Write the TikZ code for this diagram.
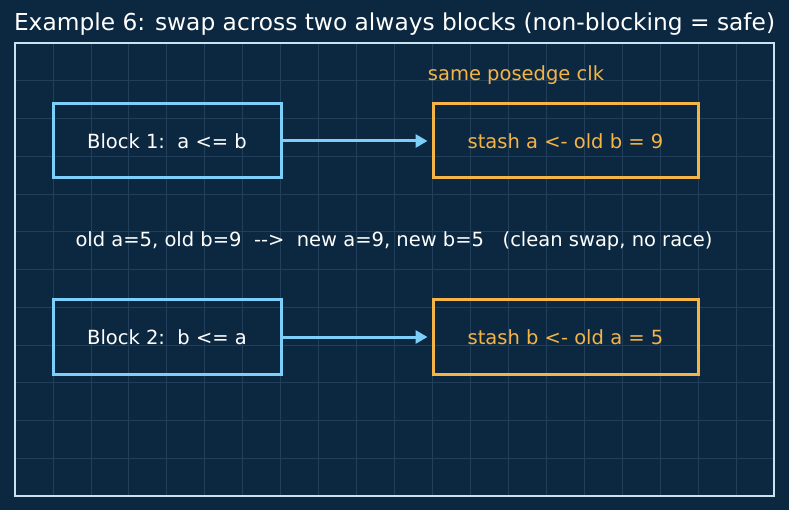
\documentclass[tikz,border=0pt]{standalone}
\usepackage{fontspec}
\setmainfont{DejaVu Sans}
\usetikzlibrary{arrows.meta}
\definecolor{bg}{HTML}{0C2840}
\definecolor{gridc}{HTML}{213F5A}
\definecolor{framec}{HTML}{C9E2F2}
\definecolor{bluec}{HTML}{7DCFFA}
\definecolor{orangec}{HTML}{F5B446}
\begin{document}
\begin{tikzpicture}[x=1pt,y=-1pt,
  bluebox/.style={draw=bluec,line width=3pt,minimum width=228pt,minimum height=74pt,text=white,font=\fontsize{19.5}{23}\selectfont},
  orangebox/.style={draw=orangec,line width=3pt,minimum width=265pt,minimum height=74pt,text=orangec,font=\fontsize{19.5}{23}\selectfont},
  arr/.style={draw=bluec,line width=3pt,-{Triangle[length=12pt,width=13pt]}},
  txt/.style={text=white,font=\fontsize{19.5}{23}\selectfont}]
\fill[bg] (0,0) rectangle (789,510);
\useasboundingbox (0,0) rectangle (789,510);
\foreach \i in {1,...,19} \draw[gridc,line width=0.8pt] ({15+\i*37.95},43) -- ({15+\i*37.95},496);
\foreach \j in {1,...,11} \draw[gridc,line width=0.8pt] (15,{43+\j*37.75}) -- (774,{43+\j*37.75});
\draw[framec,line width=2pt] (15,43) rectangle (774,496);
\node[text=white,font=\fontsize{23.3}{27}\selectfont] (title) at (394.5,24) {Example 6: swap across two always blocks (non-blocking = safe)};
\node[text=orangec,font=\fontsize{19.5}{23}\selectfont] (clk) at (516,75) {same posedge clk};
\node[bluebox] (b1) at (167,141) {Block 1:\ \ a <= b};
\node[orangebox] (s1) at (565.5,141) {stash a <- old b = 9};
\node[bluebox] (b2) at (167,337) {Block 2:\ \ b <= a};
\node[orangebox] (s2) at (565.5,337) {stash b <- old a = 5};
\node[txt] (mid) at (394,241) {old a=5, old b=9\ \ {-}{-}>\ \ new a=9, new b=5\ \ \ (clean swap, no race)};
\draw[arr] (b1.east) -- ([xshift=-4pt]s1.west);
\draw[arr] (b2.east) -- ([xshift=-4pt]s2.west);
\end{tikzpicture}
\end{document}
